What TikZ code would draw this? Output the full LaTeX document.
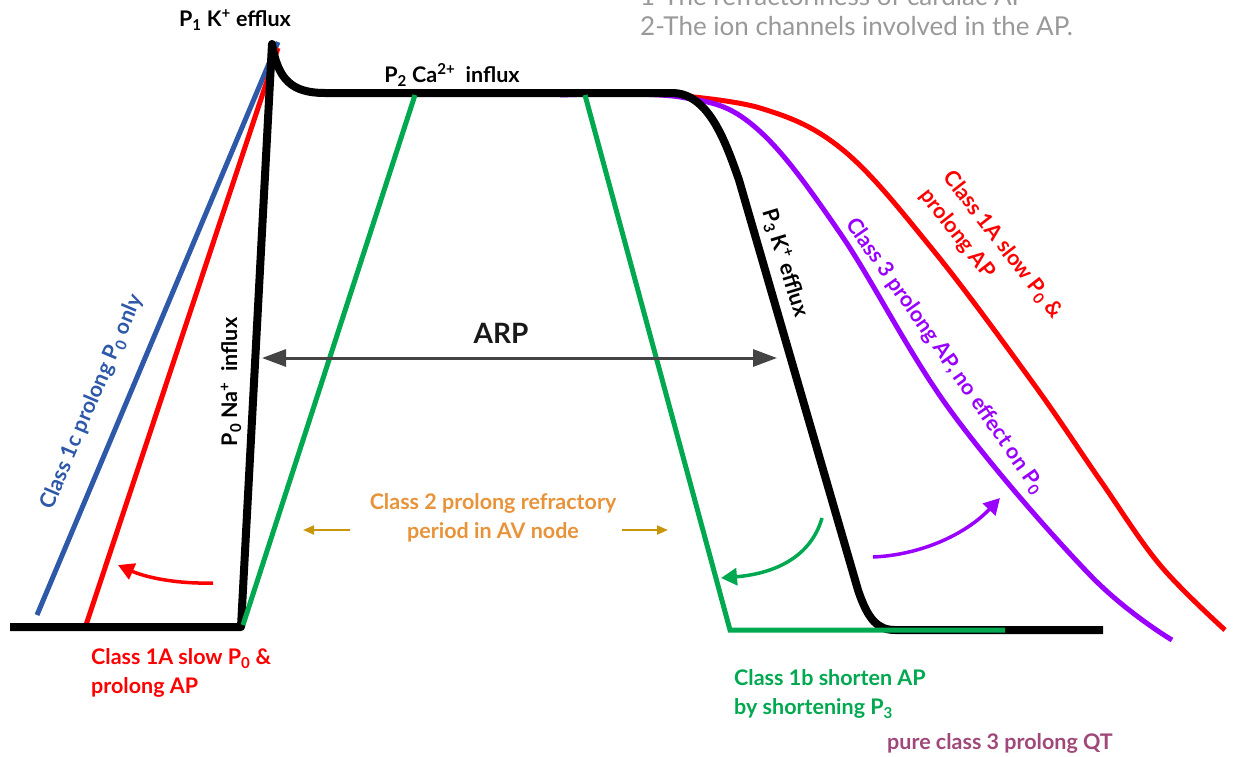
\documentclass[tikz,border=0pt]{standalone}
\usepackage{fontspec}
\setmainfont{Lato}
\usetikzlibrary{arrows.meta}

\definecolor{apblue}{HTML}{2E58A8}
\definecolor{apred}{HTML}{FF0000}
\definecolor{apgreen}{HTML}{00A850}
\definecolor{appurple}{HTML}{9900FF}
\definecolor{aporange}{HTML}{E8933A}
\definecolor{apgold}{HTML}{C8960A}
\definecolor{apmauve}{HTML}{A0487A}
\definecolor{apgray}{HTML}{999999}
\definecolor{arpgray}{HTML}{444444}

\begin{document}
\begin{tikzpicture}[x=1pt, y=-1pt,
    lbl/.style={font=\fontsize{21.5}{29}\selectfont\bfseries, inner sep=0pt},
    trace/.style={line width=5pt},
    curvarrow/.style={line width=3.5pt, -{Triangle[length=16pt, width=17pt]}}]
    \useasboundingbox (0,0) rectangle (1235,756);
    \clip (0,0) rectangle (1235,756);

    % Heading (partly cut off)
    \node[anchor=base west, font=\fontsize{26}{30}\selectfont, text=apgray, inner sep=0pt] (hd1) at (640,5) {1-The refractoriness of cardiac AP};
    \node[anchor=base west, font=\fontsize{26}{30}\selectfont, text=apgray, inner sep=0pt] (hd2) at (640,35) {2-The ion channels involved in the AP.};

    % Drug effect lines
    \draw[trace, apblue] (37,615) -- (278,42);
    \draw[trace, apred] (85,628) -- (278,48);
    \draw[trace, apred] plot[smooth, tension=0.6] coordinates {(660,94) (760,108) (843,150) (933,250) (1033,383) (1100,480) (1160,565) (1225,630)};
    \draw[trace, appurple] plot[smooth, tension=0.6] coordinates {(560,95) (680,97) (755,127) (840,233) (950,410) (1090,575) (1172,640)};

    % Action potential
    \draw[line width=8pt, line join=round] (10,627) -- (241,627) -- (272,44)
        .. controls (278,80) and (292,93) .. (325,93) -- (672,93)
        .. controls (708,93) and (725,140) .. (739,180) -- (858,590)
        .. controls (868,620) and (878,630) .. (895,630) -- (1103,630);

    % Class 1b
    \draw[trace, apgreen] (243,625) -- (415,95);
    \draw[trace, apgreen] (585,95) -- (730,630) -- (1005,630);

    % ARP
    \coordinate (arpL) at (262,358);
    \coordinate (arpR) at (777,358);
    \draw[line width=3pt, arpgray, {Triangle[length=24pt, width=17pt]}-{Triangle[length=24pt, width=17pt]}] (arpL) -- (arpR);
    \node[font=\fontsize{28}{30}\selectfont\bfseries, text=black!90] (arp) at (501,333) {ARP};

    % Class 2
    \node[lbl, text=aporange, align=center] (cls2) at (493,518) {Class 2 prolong refractory\\period in AV node};
    \coordinate (c2l) at (303,530);
    \coordinate (c2r) at (668,530);
    \draw[line width=2pt, apgold, -{Triangle[length=11pt, width=9pt]}] (350,530) -- (c2l);
    \draw[line width=2pt, apgold, -{Triangle[length=11pt, width=9pt]}] (622,530) -- (c2r);

    % Curved arrows
    \coordinate (redT) at (213,583);
    \coordinate (redH) at (118,565);
    \draw[curvarrow, apred] (redT) .. controls (175,584) and (145,577) .. (redH);
    \coordinate (grnT) at (822,518);
    \coordinate (grnH) at (721,578);
    \draw[curvarrow, apgreen] (grnT) .. controls (810,560) and (770,574) .. (grnH);
    \coordinate (purT) at (873,557);
    \coordinate (purH) at (1000,498);
    \draw[curvarrow, appurple] (purT) .. controls (920,555) and (965,535) .. (purH);

    % Phase labels
    \node[lbl] (p1) at (235,20) {P\textsubscript{1} K\textsuperscript{+} efflux};
    \node[lbl] (p2) at (452,75) {P\textsubscript{2} Ca\textsuperscript{2+}\ \ influx};
    \node[lbl, rotate=90] (p0) at (231,382) {P\textsubscript{0} Na\textsuperscript{+}\ \ influx};
    \node[lbl, rotate=-73] (p3) at (785,263) {P\textsubscript{3} K\textsuperscript{+} efflux};

    % Class labels
    \node[lbl, text=apblue, rotate=67] (cls1c) at (92,402) {Class 1c prolong P\textsubscript{0} only};
    \node[lbl, text=apred, rotate=-52, align=left] (cls1aR) at (991,254) {Class 1A slow P\textsubscript{0} \&\\prolong AP};
    \node[lbl, text=appurple, rotate=-55] (cls3) at (945,356) {Class 3 prolong AP, no effect on P\textsubscript{0}};
    \node[lbl, text=apred, align=left, anchor=north west] (cls1aL) at (91,648) {Class 1A slow P\textsubscript{0} \&\\prolong AP};
    \node[lbl, text=apgreen, align=left, anchor=north west] (cls1b) at (734,669) {Class 1b shorten AP\\by shortening P\textsubscript{3}};
    \node[lbl, text=apmauve, anchor=west] (qt) at (887,743) {pure class 3 prolong QT};
\end{tikzpicture}
\end{document}
